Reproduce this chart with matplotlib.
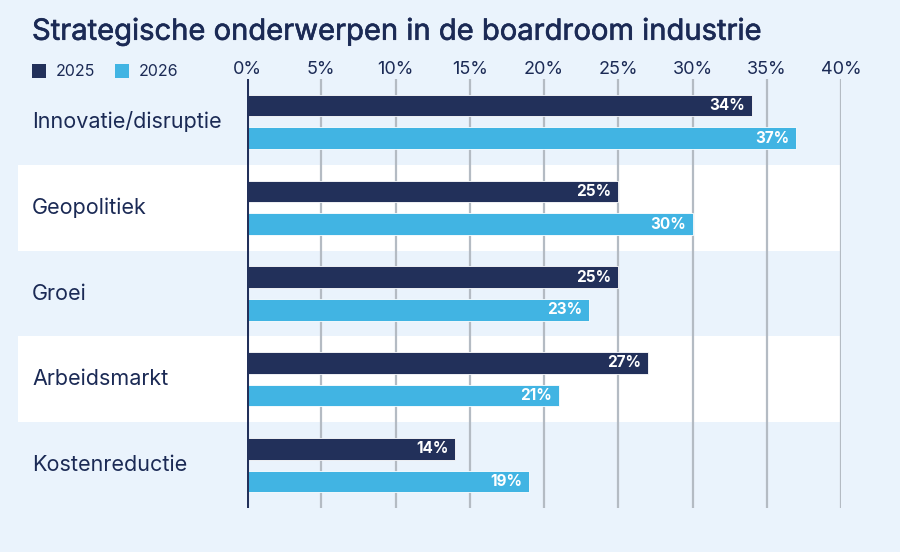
import numpy as np
import matplotlib
matplotlib.use("Agg")
import matplotlib.pyplot as plt
import matplotlib.patheffects as pe
from matplotlib.patches import Rectangle
from matplotlib.transforms import blended_transform_factory

# data
categories = ["Innovatie/disruptie", "Geopolitiek", "Groei", "Arbeidsmarkt", "Kostenreductie"]
vals_2025 = [34, 25, 25, 27, 14]
vals_2026 = [37, 30, 23, 21, 19]
series_names = ["2025", "2026"]
xticks = [0, 5, 10, 15, 20, 25, 30, 35, 40]

# colours
BG = "#eaf3fc"
NAVY = "#22305a"
LIGHT = "#41b4e3"
TEXT = "#1b2a55"
GRID = "#b4bbc3"

plt.rcParams['font.family'] = ['Inter', 'DejaVu Sans']

W, H = 900, 552
fig = plt.figure(figsize=(W / 100, H / 100), dpi=100)
fig.patch.set_facecolor(BG)

# axes placed in pixel terms
x0, x1 = 247, 841
y_top, y_bot = 79, 508
ax = fig.add_axes([x0 / W, 1 - y_bot / H, (x1 - x0) / W, (y_bot - y_top) / H])
ax.set_facecolor("none")
ax.set_xlim(0, 40)
ax.set_ylim(len(categories) - 0.5, -0.5)

# alternating white bands reaching to the left edge
trans = blended_transform_factory(ax.transAxes, ax.transData)
left_frac = (18 - x0) / (x1 - x0)
for i in range(len(categories)):
    if i % 2 == 1:
        ax.add_patch(Rectangle((left_frac, i - 0.5), 1 - left_frac, 1.0,
                               transform=trans, facecolor="white",
                               edgecolor="none", clip_on=False, zorder=0))

# gridlines
for t in xticks[1:]:
    ax.axvline(t, color=GRID, lw=1.6, zorder=1)
ax.axvline(0, color=NAVY, lw=2.2, zorder=4)

y = np.arange(len(categories))
off = 0.19
h = 0.25
ax.barh(y - off, vals_2025, height=h, color=NAVY, edgecolor="white", lw=0.6, zorder=3)
ax.barh(y + off, vals_2026, height=h, color=LIGHT, edgecolor="white", lw=0.6, zorder=3)

for yi, v in zip(y - off, vals_2025):
    ax.text(v - 0.45, yi, f"{v}%", ha="right", va="center", color="white",
            fontsize=11, fontweight="bold", zorder=5)
for yi, v in zip(y + off, vals_2026):
    ax.text(v - 0.45, yi, f"{v}%", ha="right", va="center", color="white",
            fontsize=11, fontweight="bold", zorder=5)

# category labels
for yi, c in zip(y, categories):
    ax.text(left_frac + (32 - 18) / (x1 - x0), yi, c, transform=trans,
            ha="left", va="center", color=TEXT, fontsize=15.5)

# ticks on top
ax.xaxis.tick_top()
ax.set_xticks(xticks)
ax.set_xticklabels([f"{t}%" for t in xticks], color=TEXT, fontsize=13)
ax.tick_params(axis="x", length=0, pad=1)
ax.set_yticks([])
for s in ax.spines.values():
    s.set_visible(False)

# title (regular weight thickened a little with a stroke)
fig.text(32 / W, 1 - 32 / H, "Strategische onderwerpen in de boardroom industrie",
         ha="left", va="center", color=TEXT, fontsize=21,
         path_effects=[pe.withStroke(linewidth=0.45, foreground=TEXT)])

# legend
for sx, col, name in [(32, NAVY, series_names[0]), (115, LIGHT, series_names[1])]:
    fig.patches.append(Rectangle((sx / W, 1 - 78 / H), 14 / W, 14 / H,
                                 transform=fig.transFigure, facecolor=col,
                                 edgecolor="none"))
    fig.text((sx + 24) / W, 1 - 71 / H, name, ha="left", va="center",
             color=TEXT, fontsize=11.5)

fig.savefig("out.png", dpi=100, facecolor=BG)
